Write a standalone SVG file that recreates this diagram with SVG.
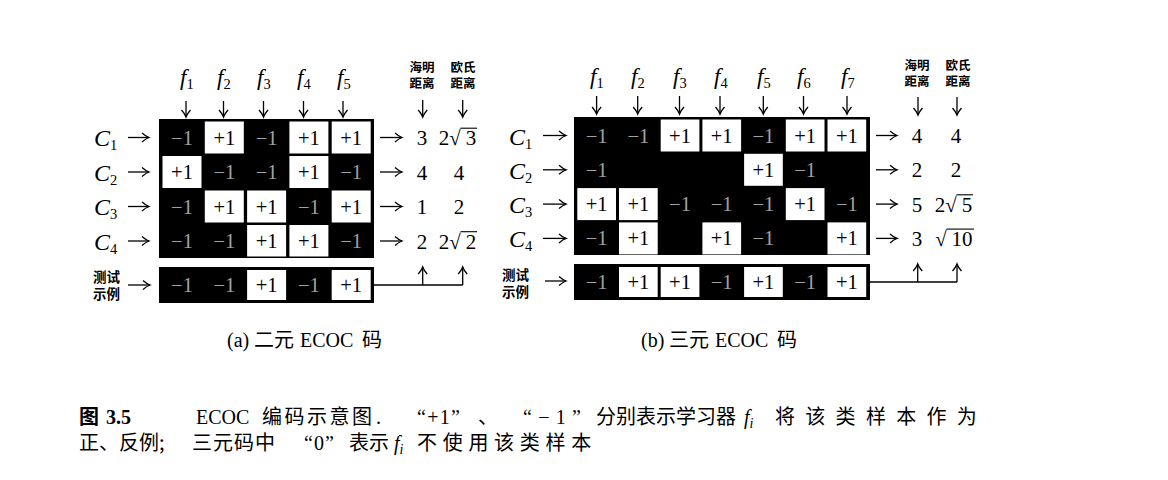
<svg xmlns="http://www.w3.org/2000/svg" width="1168" height="480" viewBox="0 0 1168 480">
<style>
.bg{fill:#ffffff}
.blk{fill:#000000}
.wc{fill:#ffffff}
.num{font-family:"Liberation Serif",serif;font-size:20.5px;text-anchor:middle}
.dk{fill:#000000}
.gy{fill:#a2a2a2}
.mi{font-family:"Liberation Serif",serif;font-style:italic;font-size:23px;fill:#000}
.ci{font-family:"Liberation Serif",serif;font-style:italic;font-size:24px;fill:#000}
.sub{font-style:normal;font-size:14.5px}
.val{font-family:"Liberation Serif",serif;font-size:21px;text-anchor:middle;fill:#000}
.hd{font-family:"Noto Sans CJK SC",sans-serif;font-size:12.5px;font-weight:700;text-anchor:middle;fill:#000}
.ts{font-family:"Noto Sans CJK SC",sans-serif;font-size:13.5px;font-weight:700;text-anchor:middle;fill:#000}
.cap{font-family:"Liberation Serif","Noto Sans CJK SC",serif;font-size:20px;fill:#000}
.cjk{font-family:"Noto Sans CJK SC",sans-serif}
.sc{font-family:"Liberation Serif","Noto Sans CJK SC",serif;font-size:20px;fill:#000}
.arr{stroke:#000;stroke-width:1.3;fill:none;marker-end:url(#ah)}
.ln{stroke:#000;stroke-width:1.3;fill:none}
.ov{stroke:#000;stroke-width:1.1}
</style>
<defs>
<marker id="ah" viewBox="-9 -6 11 12" refX="0" refY="0" markerWidth="11" markerHeight="12" markerUnits="userSpaceOnUse" orient="auto">
<path d="M-7,-4.5 Q-3,-1 0,0 Q-3,1 -7,4.5" fill="none" stroke="#000" stroke-width="1.3"/>
</marker>
</defs>
<rect class="bg" x="0" y="0" width="1168" height="480"/>

<!-- ===== (a) binary ECOC ===== -->
<g id="a-headers">
<text class="mi" x="180" y="85">f<tspan class="sub" dy="4">1</tspan></text>
<text class="mi" x="217" y="85">f<tspan class="sub" dy="4">2</tspan></text>
<text class="mi" x="257" y="85">f<tspan class="sub" dy="4">3</tspan></text>
<text class="mi" x="297" y="85">f<tspan class="sub" dy="4">4</tspan></text>
<text class="mi" x="337" y="85">f<tspan class="sub" dy="4">5</tspan></text>
<text class="hd" x="422" y="72">海明<tspan x="422" dy="16">距离</tspan></text>
<text class="hd" x="463" y="72">欧氏<tspan x="463" dy="16">距离</tspan></text>
</g>
<g id="a-rowlabels">
<text class="ci" x="94" y="146">C<tspan class="sub" dy="4">1</tspan></text>
<text class="ci" x="94" y="180.5">C<tspan class="sub" dy="4">2</tspan></text>
<text class="ci" x="94" y="215">C<tspan class="sub" dy="4">3</tspan></text>
<text class="ci" x="94" y="249.5">C<tspan class="sub" dy="4">4</tspan></text>
<text class="ts" x="106.5" y="282">测试<tspan x="106.5" dy="16.5">示例</tspan></text>
</g>
<g id="a-matrix">
<rect class="blk" x="159" y="119" width="215" height="139"/>
<rect class="wc" x="204.8" y="121.5" width="39" height="32"/>
<rect class="wc" x="289.4" y="121.5" width="39" height="32"/>
<rect class="wc" x="331.7" y="121.5" width="39" height="32"/>
<text class="num gy" x="182" y="144.5">−1</text>
<text class="num dk" x="224.3" y="144.5">+1</text>
<text class="num gy" x="266.6" y="144.5">−1</text>
<text class="num dk" x="308.9" y="144.5">+1</text>
<text class="num dk" x="351.2" y="144.5">+1</text>
<rect class="wc" x="162.5" y="156" width="39" height="32"/>
<rect class="wc" x="289.4" y="156" width="39" height="32"/>
<text class="num dk" x="182" y="179">+1</text>
<text class="num gy" x="224.3" y="179">−1</text>
<text class="num gy" x="266.6" y="179">−1</text>
<text class="num dk" x="308.9" y="179">+1</text>
<text class="num gy" x="351.2" y="179">−1</text>
<rect class="wc" x="204.8" y="190.5" width="39" height="32"/>
<rect class="wc" x="247.1" y="190.5" width="39" height="32"/>
<rect class="wc" x="331.7" y="190.5" width="39" height="32"/>
<text class="num gy" x="182" y="213.5">−1</text>
<text class="num dk" x="224.3" y="213.5">+1</text>
<text class="num dk" x="266.6" y="213.5">+1</text>
<text class="num gy" x="308.9" y="213.5">−1</text>
<text class="num dk" x="351.2" y="213.5">+1</text>
<rect class="wc" x="247.1" y="225" width="39" height="31.5"/>
<rect class="wc" x="289.4" y="225" width="39" height="31.5"/>
<text class="num gy" x="182" y="248">−1</text>
<text class="num gy" x="224.3" y="248">−1</text>
<text class="num dk" x="266.6" y="248">+1</text>
<text class="num dk" x="308.9" y="248">+1</text>
<text class="num gy" x="351.2" y="248">−1</text>
</g>
<g id="a-test">
<rect class="blk" x="159" y="267" width="215" height="36"/>
<rect class="wc" x="247.1" y="270" width="39" height="30"/>
<rect class="wc" x="331.7" y="270" width="39" height="30"/>
<text class="num gy" x="182" y="292">−1</text>
<text class="num gy" x="224.3" y="292">−1</text>
<text class="num dk" x="266.6" y="292">+1</text>
<text class="num gy" x="308.9" y="292">−1</text>
<text class="num dk" x="351.2" y="292">+1</text>
</g>
<g id="a-distances">
<text class="val" x="422" y="145">3</text>
<text class="val" x="422" y="179.5">4</text>
<text class="val" x="422" y="214">1</text>
<text class="val" x="422" y="248.5">2</text>
<text class="val" x="459" y="179.5">4</text>
<text class="val" x="459" y="214">2</text>
<text class="val" x="444" y="145">2</text>
<text class="val" x="455" y="145">√</text>
<text class="val" x="471" y="145">3</text>
<line class="ov" x1="460.5" y1="128.2" x2="477" y2="128.2"/>
<text class="val" x="444" y="248.5">2</text>
<text class="val" x="455" y="248.5">√</text>
<text class="val" x="471" y="248.5">2</text>
<line class="ov" x1="460.5" y1="231.7" x2="477" y2="231.7"/>
</g>

<!-- ===== (b) ternary ECOC ===== -->
<g id="b-headers">
<text class="mi" x="590" y="84">f<tspan class="sub" dy="4">1</tspan></text>
<text class="mi" x="631" y="84">f<tspan class="sub" dy="4">2</tspan></text>
<text class="mi" x="673" y="84">f<tspan class="sub" dy="4">3</tspan></text>
<text class="mi" x="714" y="84">f<tspan class="sub" dy="4">4</tspan></text>
<text class="mi" x="757" y="84">f<tspan class="sub" dy="4">5</tspan></text>
<text class="mi" x="797" y="84">f<tspan class="sub" dy="4">6</tspan></text>
<text class="mi" x="841" y="84">f<tspan class="sub" dy="4">7</tspan></text>
<text class="hd" x="917" y="70">海明<tspan x="917" dy="16">距离</tspan></text>
<text class="hd" x="958" y="70">欧氏<tspan x="958" dy="16">距离</tspan></text>
</g>
<g id="b-rowlabels">
<text class="ci" x="509" y="144.5">C<tspan class="sub" dy="4">1</tspan></text>
<text class="ci" x="509" y="178.8">C<tspan class="sub" dy="4">2</tspan></text>
<text class="ci" x="509" y="213">C<tspan class="sub" dy="4">3</tspan></text>
<text class="ci" x="509" y="247.4">C<tspan class="sub" dy="4">4</tspan></text>
<text class="ts" x="515.5" y="280">测试<tspan x="515.5" dy="16.5">示例</tspan></text>
</g>
<g id="b-matrix">
<rect class="blk" x="574" y="117" width="296" height="138"/>
<rect class="wc" x="660.7" y="119.5" width="38.7" height="32"/>
<rect class="wc" x="702.4" y="119.5" width="38.7" height="32"/>
<rect class="wc" x="785.8" y="119.5" width="38.7" height="32"/>
<rect class="wc" x="827.5" y="119.5" width="38.7" height="32"/>
<text class="num gy" x="596.6" y="142.5">−1</text>
<text class="num gy" x="638.3" y="142.5">−1</text>
<text class="num dk" x="680" y="142.5">+1</text>
<text class="num dk" x="721.7" y="142.5">+1</text>
<text class="num gy" x="763.4" y="142.5">−1</text>
<text class="num dk" x="805.1" y="142.5">+1</text>
<text class="num dk" x="846.8" y="142.5">+1</text>
<rect class="wc" x="744.1" y="153.8" width="38.7" height="32"/>
<text class="num gy" x="596.6" y="176.8">−1</text>
<text class="num dk" x="763.4" y="176.8">+1</text>
<text class="num gy" x="805.1" y="176.8">−1</text>
<rect class="wc" x="577.3" y="188.1" width="38.7" height="32"/>
<rect class="wc" x="619" y="188.1" width="38.7" height="32"/>
<rect class="wc" x="785.8" y="188.1" width="38.7" height="32"/>
<text class="num dk" x="596.6" y="211.1">+1</text>
<text class="num dk" x="638.3" y="211.1">+1</text>
<text class="num gy" x="680" y="211.1">−1</text>
<text class="num gy" x="721.7" y="211.1">−1</text>
<text class="num gy" x="763.4" y="211.1">−1</text>
<text class="num dk" x="805.1" y="211.1">+1</text>
<text class="num gy" x="846.8" y="211.1">−1</text>
<rect class="wc" x="619" y="222.4" width="38.7" height="32"/>
<rect class="wc" x="702.4" y="222.4" width="38.7" height="32"/>
<rect class="wc" x="827.5" y="222.4" width="38.7" height="32"/>
<text class="num gy" x="596.6" y="245.4">−1</text>
<text class="num dk" x="638.3" y="245.4">+1</text>
<text class="num dk" x="721.7" y="245.4">+1</text>
<text class="num gy" x="763.4" y="245.4">−1</text>
<text class="num dk" x="846.8" y="245.4">+1</text>
</g>
<g id="b-test">
<rect class="blk" x="574" y="264" width="296" height="36"/>
<rect class="wc" x="619" y="267" width="38.7" height="30"/>
<rect class="wc" x="660.7" y="267" width="38.7" height="30"/>
<rect class="wc" x="744.1" y="267" width="38.7" height="30"/>
<rect class="wc" x="827.5" y="267" width="38.7" height="30"/>
<text class="num gy" x="596.6" y="289">−1</text>
<text class="num dk" x="638.3" y="289">+1</text>
<text class="num dk" x="680" y="289">+1</text>
<text class="num gy" x="721.7" y="289">−1</text>
<text class="num dk" x="763.4" y="289">+1</text>
<text class="num gy" x="805.1" y="289">−1</text>
<text class="num dk" x="846.8" y="289">+1</text>
</g>
<g id="b-distances">
<text class="val" x="917" y="143">4</text>
<text class="val" x="917" y="177.3">2</text>
<text class="val" x="917" y="211.6">5</text>
<text class="val" x="917" y="245.9">3</text>
<text class="val" x="956" y="143">4</text>
<text class="val" x="956" y="177.3">2</text>
<text class="val" x="940" y="211.6">2</text>
<text class="val" x="951" y="211.6">√</text>
<text class="val" x="967" y="211.6">5</text>
<line class="ov" x1="956.5" y1="194.8" x2="973" y2="194.8"/>
<text class="val" x="941" y="245.9">√</text>
<text class="val" x="962" y="245.9">10</text>
<line class="ov" x1="946.5" y1="229.1" x2="974" y2="229.1"/>
</g>

<!-- ===== connectors ===== -->
<g id="connectors">
<line class="arr" x1="186" y1="101" x2="186" y2="117"/>
<line class="arr" x1="223.5" y1="101" x2="223.5" y2="117"/>
<line class="arr" x1="263.5" y1="101" x2="263.5" y2="117"/>
<line class="arr" x1="303.5" y1="101" x2="303.5" y2="117"/>
<line class="arr" x1="343" y1="101" x2="343" y2="117"/>
<line class="arr" x1="422.7" y1="100" x2="422.7" y2="117"/>
<line class="arr" x1="462.7" y1="100" x2="462.7" y2="117"/>
<line class="arr" x1="128" y1="137.5" x2="149" y2="137.5"/>
<line class="arr" x1="128" y1="172" x2="149" y2="172"/>
<line class="arr" x1="128" y1="206.5" x2="149" y2="206.5"/>
<line class="arr" x1="128" y1="241" x2="149" y2="241"/>
<line class="arr" x1="128" y1="285" x2="150" y2="285"/>
<line class="arr" x1="380" y1="137.5" x2="402" y2="137.5"/>
<line class="arr" x1="380" y1="172" x2="402" y2="172"/>
<line class="arr" x1="380" y1="206.5" x2="402" y2="206.5"/>
<line class="arr" x1="380" y1="241" x2="402" y2="241"/>
<path class="ln" d="M374,285 H462.7"/>
<line class="arr" x1="422.7" y1="285" x2="422.7" y2="267"/>
<line class="arr" x1="462.7" y1="285" x2="462.7" y2="267"/>
<line class="arr" x1="596.6" y1="96" x2="596.6" y2="114"/>
<line class="arr" x1="637.7" y1="96" x2="637.7" y2="114"/>
<line class="arr" x1="679.5" y1="96" x2="679.5" y2="114"/>
<line class="arr" x1="720" y1="96" x2="720" y2="114"/>
<line class="arr" x1="763.3" y1="96" x2="763.3" y2="114"/>
<line class="arr" x1="803.5" y1="96" x2="803.5" y2="114"/>
<line class="arr" x1="847" y1="96" x2="847" y2="114"/>
<line class="arr" x1="918" y1="97" x2="918" y2="115"/>
<line class="arr" x1="957" y1="97" x2="957" y2="115"/>
<line class="arr" x1="543" y1="135.5" x2="566" y2="135.5"/>
<line class="arr" x1="543" y1="169.8" x2="566" y2="169.8"/>
<line class="arr" x1="543" y1="204.1" x2="566" y2="204.1"/>
<line class="arr" x1="543" y1="238.4" x2="566" y2="238.4"/>
<line class="arr" x1="545" y1="281" x2="566" y2="281"/>
<line class="arr" x1="876" y1="135.5" x2="897" y2="135.5"/>
<line class="arr" x1="876" y1="169.8" x2="897" y2="169.8"/>
<line class="arr" x1="876" y1="204.1" x2="897" y2="204.1"/>
<line class="arr" x1="876" y1="238.4" x2="897" y2="238.4"/>
<path class="ln" d="M870,282 H957"/>
<line class="arr" x1="917.7" y1="282" x2="917.7" y2="264"/>
<line class="arr" x1="957" y1="282" x2="957" y2="264"/>
</g>

<!-- ===== captions ===== -->
<g id="subcaptions">
<text class="sc" y="347"><tspan x="227">(a)</tspan><tspan x="254" class="cjk">二元</tspan><tspan x="300">ECOC</tspan><tspan x="362" class="cjk">码</tspan></text>
<text class="sc" y="347"><tspan x="641">(b)</tspan><tspan x="669" class="cjk">三元</tspan><tspan x="715">ECOC</tspan><tspan x="777" class="cjk">码</tspan></text>
</g>
<g id="caption">
<text class="cap" y="424"><tspan x="79" class="cjk" font-weight="700">图</tspan><tspan x="106" font-weight="700">3.5</tspan><tspan x="196">ECOC</tspan><tspan x="262" class="cjk" letter-spacing="2.5">编码示意图</tspan><tspan x="376">.</tspan><tspan x="417" textLength="43">“+1”</tspan><tspan x="478" class="cjk">、</tspan><tspan x="523" textLength="58">“−1”</tspan><tspan x="596" class="cjk">分别表示学习器</tspan><tspan x="744" font-style="italic">f</tspan><tspan font-style="italic" font-size="14" dy="4">i</tspan><tspan x="775" dy="-4" class="cjk" letter-spacing="10.3">将该类样本作为</tspan></text>
<text class="cap" y="450"><tspan x="79" class="cjk">正、反例;</tspan><tspan x="192" class="cjk" letter-spacing="1">三元码中</tspan><tspan x="304" textLength="30">“0”</tspan><tspan x="349" class="cjk">表示</tspan><tspan x="394" font-style="italic">f</tspan><tspan font-style="italic" font-size="14" dy="4">i</tspan><tspan x="417" dy="-4" class="cjk" letter-spacing="5.7">不使用该类样本</tspan></text>
</g>
</svg>
